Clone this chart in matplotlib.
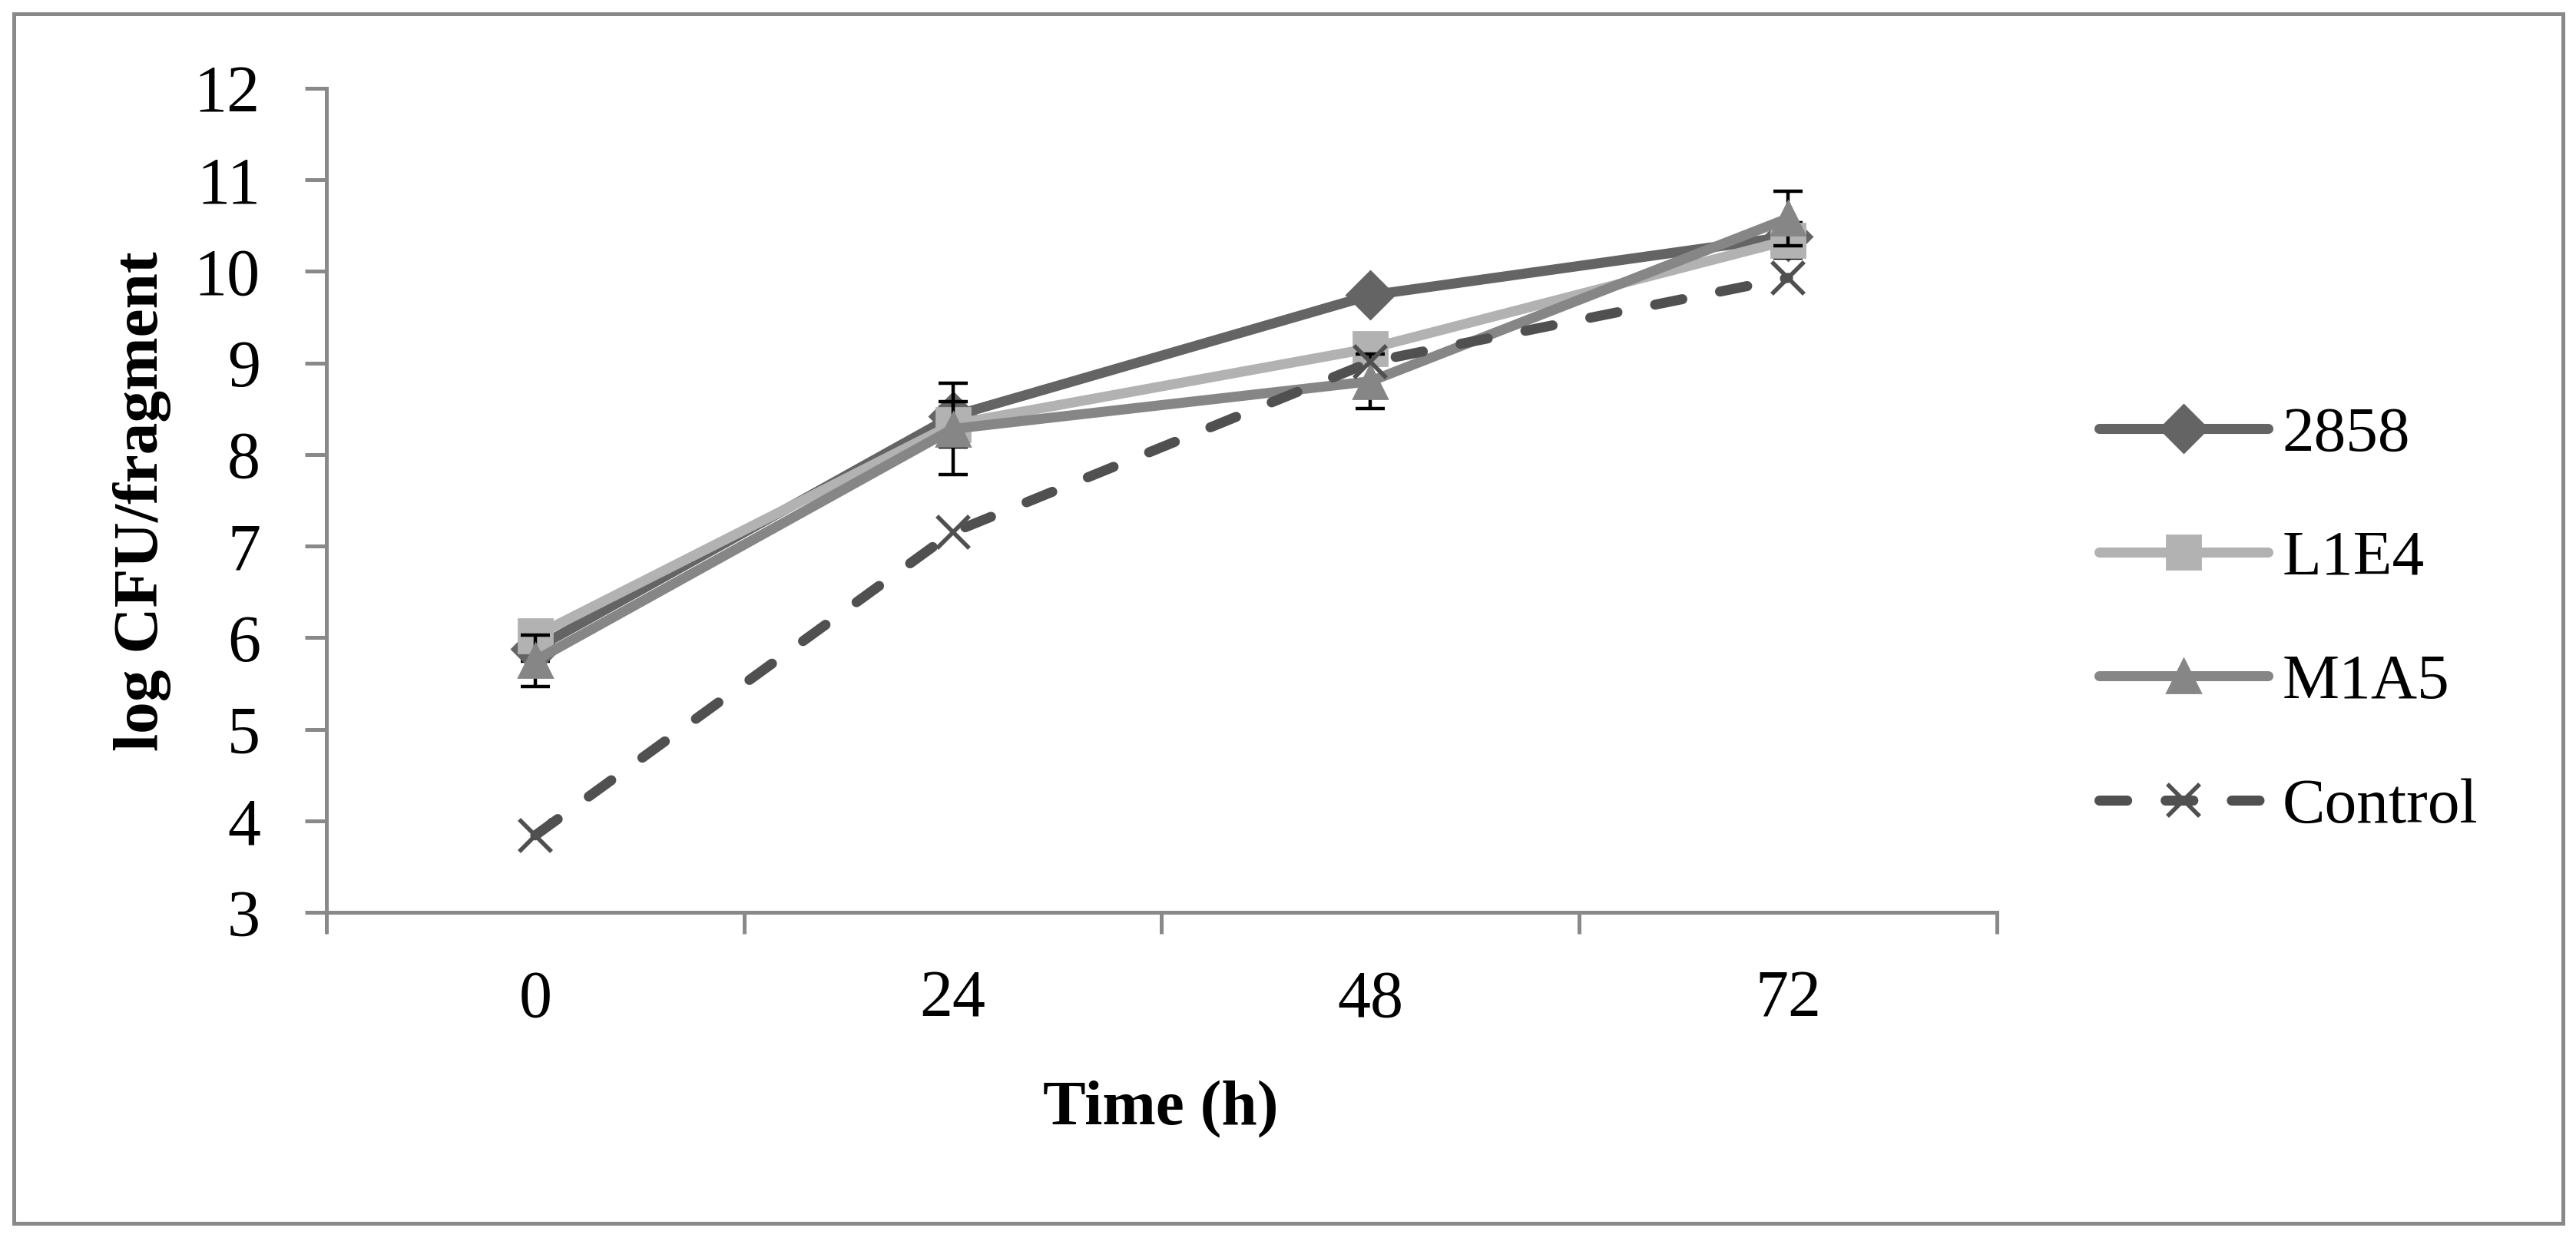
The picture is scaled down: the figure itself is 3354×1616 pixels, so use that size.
import matplotlib
matplotlib.use("Agg")
import matplotlib.pyplot as plt
from matplotlib.patches import Rectangle

# ---- data ----
times = ["0", "24", "48", "72"]
s2858 = [5.88, 8.42, 9.74, 10.38]
e2858 = [0.14, 0.10, 0.08, 0.10]
sL1E4 = [6.02, 8.33, 9.16, 10.34]
eL1E4 = [0.10, 0.245, 0.10, 0.19]
sM1A5 = [5.75, 8.28, 8.80, 10.58]
eM1A5 = [0.28, 0.50, 0.30, 0.30]
sControl = [3.84, 7.15, 9.01, 9.93]
y_ticks = [3, 4, 5, 6, 7, 8, 9, 10, 11, 12]

plt.rcParams['font.family'] = ['Liberation Serif', 'DejaVu Serif']

W, H, DPI = 3355, 1616, 200
fig = plt.figure(figsize=(W / DPI, H / DPI), dpi=DPI)
ax = fig.add_axes([425 / W, 1 - 1188 / H, (2600 - 425) / W, (1188 - 115) / H])

gray = "#898989"
lw = 4.7
x = list(range(len(times)))

series = [
    ("2858", s2858, e2858, "#646464", "D", 16),
    ("L1E4", sL1E4, eL1E4, "#b2b2b2", "s", 16),
    ("M1A5", sM1A5, eM1A5, "#868686", "^", 16),
]
for i, (name, ys, es, col, mk, ms) in enumerate(series):
    z = 2 + i
    ax.errorbar(x, ys, yerr=es, fmt="none", ecolor="black", elinewidth=1.6,
                capsize=6.8, capthick=1.6, zorder=z - 0.5)
    ax.plot(x, ys, color=col, lw=lw, marker=mk, markersize=ms, label=name,
            solid_capstyle="round", solid_joinstyle="round", zorder=z)

ax.plot(x, sControl, color="#505050", lw=lw, ls=(0, (2.77, 3.83)),
        dash_capstyle="round", marker="x", markersize=15, markeredgewidth=2.0,
        label="Control", zorder=5)

ax.set_xlim(-0.5, 3.5)
ax.set_ylim(3, 12)
ax.set_yticks(y_ticks)
ax.set_xticks([-0.5, 0.5, 1.5, 2.5, 3.5])
ax.set_xticklabels([])
ax.set_xticks(x, minor=True)
ax.set_xticklabels(times, minor=True)

for sp in ["top", "right"]:
    ax.spines[sp].set_visible(False)
for sp in ["left", "bottom"]:
    ax.spines[sp].set_color(gray)
    ax.spines[sp].set_linewidth(1.8)

ax.tick_params(axis="y", which="major", direction="out", length=10, width=1.8,
               color=gray, labelsize=31, pad=21)
ax.tick_params(axis="x", which="major", direction="out", length=10, width=1.8,
               color=gray)
ax.tick_params(axis="x", which="minor", length=0, labelsize=31, pad=27)

fig.text(1511 / W, 1 - 1445 / H, "Time (h)", fontsize=30, fontweight="bold",
         ha="center", va="center")
fig.text(185 / W, 1 - 653 / H, "log CFU/fragment", fontsize=30, fontweight="bold",
         ha="center", va="center", rotation=90)

leg = ax.legend(loc="center left", bbox_to_anchor=(2733 / W, 1 - 808.5 / H),
                bbox_transform=fig.transFigure, frameon=False, fontsize=30,
                handlelength=2.64, handletextpad=0.22, labelspacing=1.02,
                borderpad=0, borderaxespad=0)

fig.patches.append(Rectangle((18 / W, 1 - 1593 / H), (3337 - 18) / W, (1593 - 18) / H,
                             transform=fig.transFigure, fill=False,
                             edgecolor=gray, linewidth=1.8))

fig.savefig("out.png", dpi=DPI)
